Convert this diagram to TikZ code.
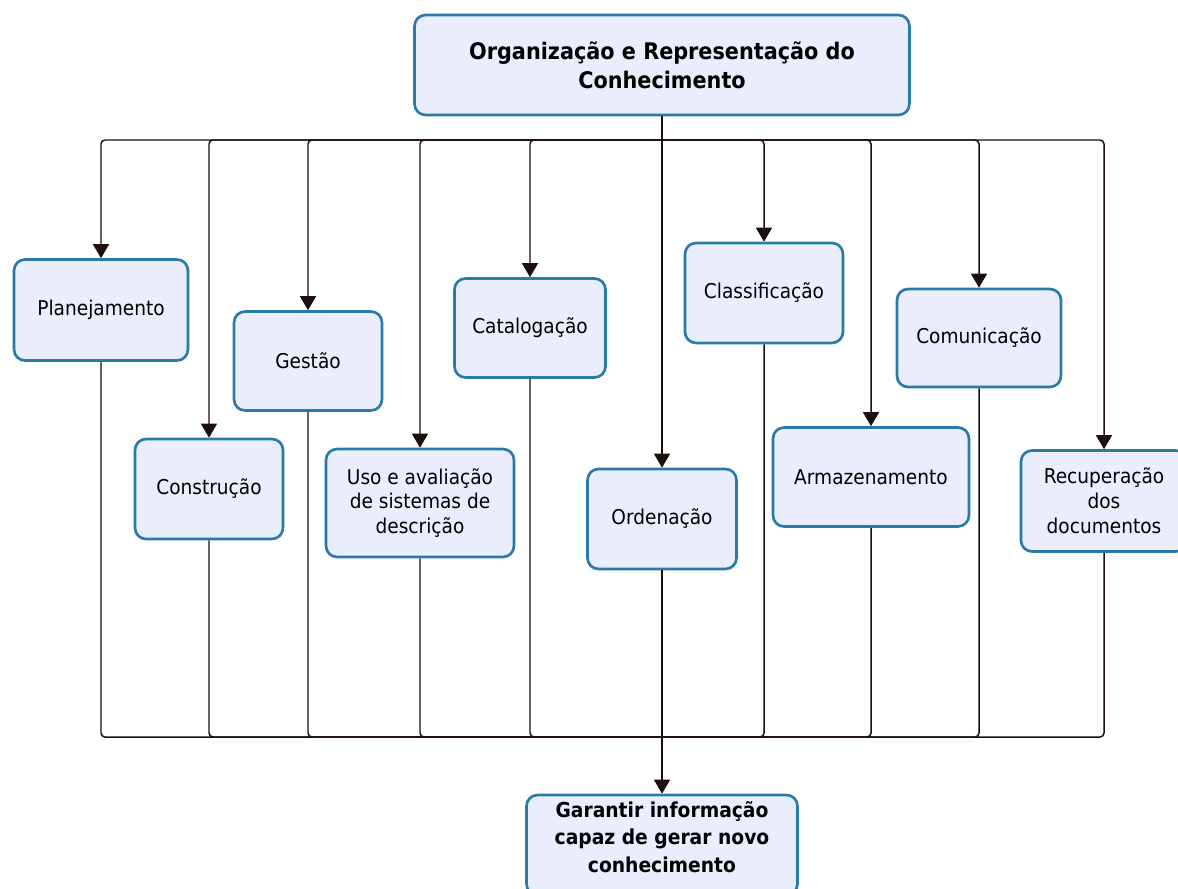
\documentclass[tikz,border=0pt]{standalone}
\usepackage{fontspec}
\setmainfont{DejaVu Sans}[FakeStretch=0.91]
\usetikzlibrary{arrows.meta}
\definecolor{boxfill}{RGB}{234,238,252}
\definecolor{boxline}{RGB}{42,122,168}
\definecolor{linecol}{RGB}{30,14,14}
\tikzset{
  box/.style={draw=boxline, line width=1.5pt, fill=boxfill, rounded corners=0.22cm,
    inner sep=0pt, align=center, font=\fontsize{11.6}{14.2}\selectfont},
  boldbox/.style={box, font=\fontsize{13}{16.4}\selectfont\bfseries},
  goaltext/.style={align=center, inner sep=0pt, font=\fontsize{11.7}{15.8}\selectfont\bfseries},
  link/.style={draw=linecol, line width=0.85pt, rounded corners=0.08cm},
  arr/.style={link, -{Triangle[width=0.32cm,length=0.28cm]}}
}
\begin{document}
\begin{tikzpicture}[x=0.02cm, y=-0.02cm]
\useasboundingbox (0,0) rectangle (1178,889);
%Source and goal
\node[boldbox, minimum width=9.9cm, minimum height=2cm] (org) at (662,65)
  {Organização e Representação do\\Conhecimento};
\node[box, minimum width=5.42cm, minimum height=2cm] (goal) at (662,845) {};
\node[goaltext] (goaltxt) at (662,837) {Garantir informação\\capaz de gerar novo\\conhecimento};
%Steps
\node[box, minimum width=3.48cm, minimum height=2.02cm] (plan) at (101,310) {Planejamento};
\node[box, minimum width=2.96cm, minimum height=2cm] (constr) at (209,489) {Construção};
\node[box, minimum width=2.96cm, minimum height=1.98cm] (gest) at (308,361) {Gestão};
\node[box, minimum width=3.76cm, minimum height=2.16cm] (uso) at (420,503)
  {Uso e avaliação\\de sistemas de\\descrição};
\node[box, minimum width=3.02cm, minimum height=1.98cm] (catal) at (530,328) {Catalogação};
\node[box, minimum width=2.98cm, minimum height=2cm] (orden) at (662,519) {Ordenação};
\node[box, minimum width=3.16cm, minimum height=2cm] (classif) at (764,293) {Classificação};
\node[box, minimum width=3.92cm, minimum height=1.98cm] (armaz) at (871,477) {Armazenamento};
\node[box, minimum width=3.28cm, minimum height=1.96cm] (comun) at (979,338) {Comunicação};
\node[box, minimum width=3.32cm, minimum height=2.02cm] (recup) at (1104,501)
  {Recuperação\\dos\\documentos};
%Buses
\coordinate (top) at (662,140);
\coordinate (bot) at (662,737);
\draw[link] (org) -- (top);
\foreach \n in {plan,constr,gest,uso,catal,classif,armaz,comun,recup}
  \draw[arr] (top) -| (\n);
\draw[arr] (org) -- (orden);
\foreach \n in {plan,constr,gest,uso,catal,classif,armaz,comun,recup}
  \draw[link] (\n) |- (bot);
\draw[arr] (orden) -- (goal);
\end{tikzpicture}
\end{document}
